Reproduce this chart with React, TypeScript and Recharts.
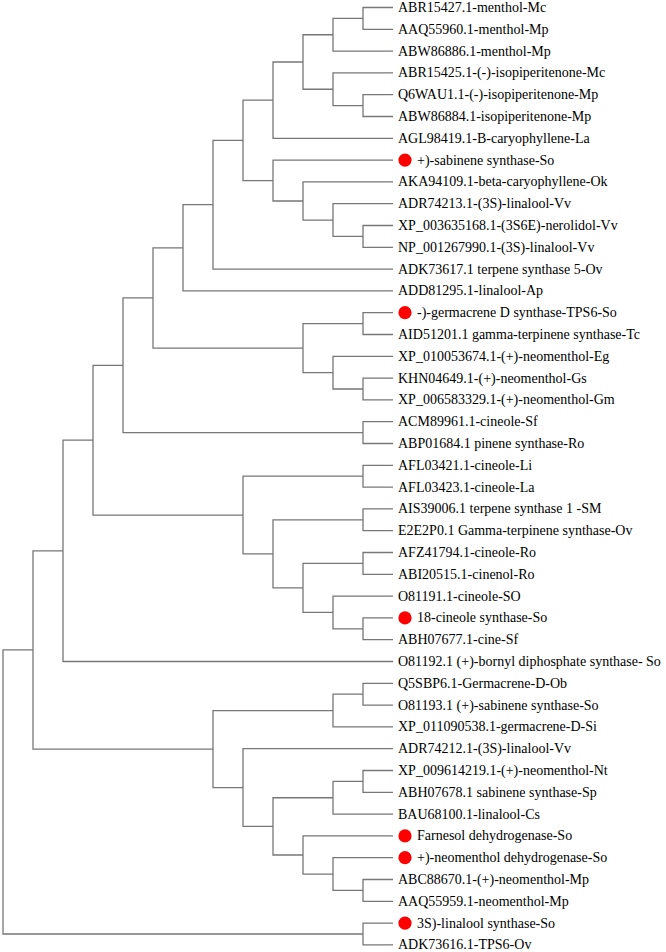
import React from 'react';
import { ComposedChart, Line, Scatter, XAxis, YAxis } from 'recharts';

// ---- data ----
const leafLabels: string[] = [
  'ABR15427.1-menthol-Mc',
  'AAQ55960.1-menthol-Mp',
  'ABW86886.1-menthol-Mp',
  'ABR15425.1-(-)-isopiperitenone-Mc',
  'Q6WAU1.1-(-)-isopiperitenone-Mp',
  'ABW86884.1-isopiperitenone-Mp',
  'AGL98419.1-B-caryophyllene-La',
  '+)-sabinene synthase-So',
  'AKA94109.1-beta-caryophyllene-Ok',
  'ADR74213.1-(3S)-linalool-Vv',
  'XP_003635168.1-(3S6E)-nerolidol-Vv',
  'NP_001267990.1-(3S)-linalool-Vv',
  'ADK73617.1 terpene synthase 5-Ov',
  'ADD81295.1-linalool-Ap',
  '-)-germacrene D synthase-TPS6-So',
  'AID51201.1 gamma-terpinene synthase-Tc',
  'XP_010053674.1-(+)-neomenthol-Eg',
  'KHN04649.1-(+)-neomenthol-Gs',
  'XP_006583329.1-(+)-neomenthol-Gm',
  'ACM89961.1-cineole-Sf',
  'ABP01684.1 pinene synthase-Ro',
  'AFL03421.1-cineole-Li',
  'AFL03423.1-cineole-La',
  'AIS39006.1 terpene synthase 1 -SM',
  'E2E2P0.1 Gamma-terpinene synthase-Ov',
  'AFZ41794.1-cineole-Ro',
  'ABI20515.1-cinenol-Ro',
  'O81191.1-cineole-SO',
  '18-cineole synthase-So',
  'ABH07677.1-cine-Sf',
  'O81192.1 (+)-bornyl diphosphate synthase- So',
  'Q5SBP6.1-Germacrene-D-Ob',
  'O81193.1 (+)-sabinene synthase-So',
  'XP_011090538.1-germacrene-D-Si',
  'ADR74212.1-(3S)-linalool-Vv',
  'XP_009614219.1-(+)-neomenthol-Nt',
  'ABH07678.1 sabinene synthase-Sp',
  'BAU68100.1-linalool-Cs',
  'Farnesol dehydrogenase-So',
  '+)-neomenthol dehydrogenase-So',
  'ABC88670.1-(+)-neomenthol-Mp',
  'AAQ55959.1-neomenthol-Mp',
  '3S)-linalool synthase-So',
  'ADK73616.1-TPS6-Ov',
];

const markedLeaves: number[] = [7, 14, 28, 38, 39, 42];
const tipLevel = 13;

// clade: [nodeLevel, childA, childB]; numbers are leaf indices
type T = number | [number, T, T];
const cladeMenthol: T = [10, [11, [12, 0, 1], 2], [11, 3, [12, 4, 5]]];
const cladeLinalool: T = [9, 7, [10, 8, [11, 9, [12, 10, 11]]]];
const cladeUpper: T = [8, [9, cladeMenthol, 6], cladeLinalool];
const cladeNeomenthol: T = [10, [12, 14, 15], [11, 16, [12, 17, 18]]];
const cladeA: T = [5, [6, [7, cladeUpper, 12], 13], cladeNeomenthol];
const cladeCineole: T = [8, [12, 21, 22], [9, [12, 23, 24], [10, [12, 25, 26], [11, 27, [12, 28, 29]]]]];
const cladeB: T = [2, [3, [4, cladeA, [12, 19, 20]], cladeCineole], 30];
const cladeLower: T = [7, [11, [12, 31, 32], 33], [8, 34, [9, [11, [12, 35, 36], 37], [10, 38, [11, 39, [12, 40, 41]]]]]];
const tree: T = [0, [1, cladeB, cladeLower], [12, 42, 43]];

// ---- build branch polylines from the tree ----
type P = { x: number; y: number | null };
const branchPoints: P[] = [];
function layout(n: T): { x: number; y: number } {
  if (typeof n === 'number') return { x: tipLevel, y: n };
  const [lv, a, b] = n;
  const ca = layout(a);
  const cb = layout(b);
  branchPoints.push({ x: ca.x, y: ca.y });
  branchPoints.push({ x: lv, y: ca.y });
  branchPoints.push({ x: lv, y: cb.y });
  branchPoints.push({ x: cb.x, y: cb.y });
  branchPoints.push({ x: lv, y: null });
  return { x: lv, y: (ca.y + cb.y) / 2 };
}
layout(tree);

const leafPoints = leafLabels.map((label, i) => ({
  x: tipLevel,
  y: i,
  label,
  marked: markedLeaves.includes(i),
}));

const FONT = '"Liberation Serif", "Times New Roman", serif';

const LeafLabel = (props: any) => {
  const { cx, cy, payload } = props;
  if (cx == null || cy == null) return null;
  if (payload.marked) {
    return (
      <g>
        <circle cx={cx + 12} cy={cy} r={6.6} fill="#ff0000" />
        <text x={cx + 24} y={cy} dominantBaseline="central" fontFamily={FONT} fontSize={14} fill="#000">
          {payload.label}
        </text>
      </g>
    );
  }
  return (
    <text x={cx + 5} y={cy} dominantBaseline="central" fontFamily={FONT} fontSize={14} fill="#000">
      {payload.label}
    </text>
  );
};

export default function App() {
  return (
    <div style={{ position: 'absolute', left: 0, top: 0, background: '#fff' }}>
      <ComposedChart width={666} height={952} margin={{ top: 0, right: 0, bottom: 0, left: 0 }}>
        <XAxis type="number" dataKey="x" domain={[-0.1, 666 / 30 - 0.1]} hide allowDataOverflow />
        <YAxis type="number" dataKey="y" domain={[-7.5 / 21.8, (952 - 7.5) / 21.8]} reversed hide allowDataOverflow />
        <Line
          data={branchPoints}
          dataKey="y"
          type="linear"
          stroke="#777777"
          strokeWidth={1.3}
          dot={false}
          activeDot={false}
          connectNulls={false}
          isAnimationActive={false}
        />
        <Scatter data={leafPoints} dataKey="y" shape={LeafLabel} isAnimationActive={false} />
      </ComposedChart>
    </div>
  );
}
